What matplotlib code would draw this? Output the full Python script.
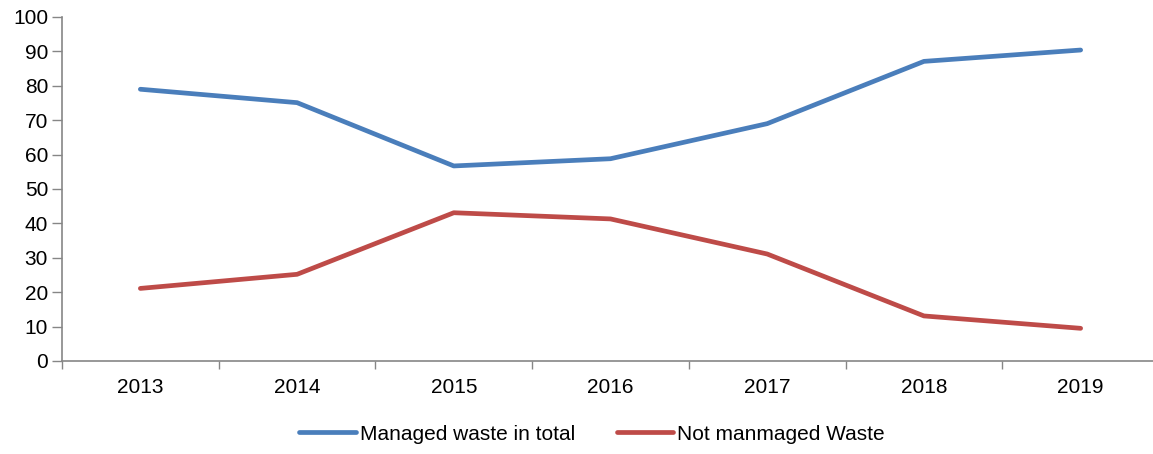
import matplotlib.pyplot as plt

years = ["2013", "2014", "2015", "2016", "2017", "2018", "2019"]
managed = [79, 75.1, 56.7, 58.8, 69, 87.1, 90.4]
not_managed = [21.1, 25.2, 43.1, 41.3, 31.1, 13.1, 9.5]

plt.rcParams['font.family'] = ['Liberation Sans', 'DejaVu Sans']

fig = plt.figure(figsize=(11.53, 4.54), dpi=100)
ax = fig.add_axes([62 / 1153, 93 / 454, 1097 / 1153, 344 / 454])

x = list(range(len(years)))
ax.plot(x, managed, color='#4A7EBB', linewidth=3.4, solid_capstyle='round', label='Managed waste in total')
ax.plot(x, not_managed, color='#BE4B48', linewidth=3.4, solid_capstyle='round', label='Not manmaged Waste')

ax.set_xlim(-0.5, len(years) - 0.5)
ax.set_ylim(0, 100)
ax.set_yticks(range(0, 101, 10))
ax.set_xticks(x)
ax.set_xticklabels(years)
ax.set_xticks([i - 0.5 for i in range(len(years) + 1)], minor=True)
ax.tick_params(axis='x', which='major', length=0, pad=12, labelsize=15)
ax.tick_params(axis='x', which='minor', length=6, color='#868686', width=1)
ax.tick_params(axis='y', length=7, color='#868686', width=1, labelsize=15, pad=3)

for side in ['top', 'right']:
    ax.spines[side].set_visible(False)
for side in ['left', 'bottom']:
    ax.spines[side].set_color('#868686')
    ax.spines[side].set_linewidth(1.2)

fig.legend(loc='center', bbox_to_anchor=(592 / 1153, 20 / 454), ncol=2, frameon=False,
           fontsize=15, handlelength=2.7, handletextpad=0.2, columnspacing=2.0)

fig.savefig('out.png', dpi=100)
